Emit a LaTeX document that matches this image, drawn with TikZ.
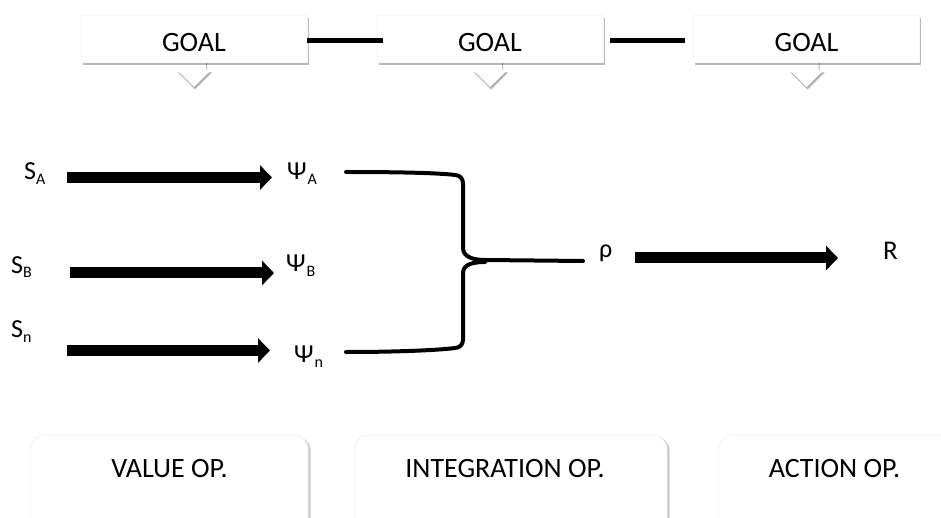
\documentclass[tikz,border=0pt]{standalone}
\usepackage{fontspec}
\setmainfont{Carlito}
\usetikzlibrary{arrows.meta,shadows}
\newcommand\subx[1]{\raisebox{-5pt}{\fontsize{16}{16}\selectfont #1}}
\begin{document}
\begin{tikzpicture}[x=1pt,y=-1pt,
  goalbox/.style={fill=white, draw=black!3, minimum width=226pt, minimum height=47pt, inner sep=0pt,
     text height=26pt, text depth=0pt, font=\fontsize{28}{32}\selectfont,
     drop shadow={shadow xshift=1.5pt, shadow yshift=-3pt, fill=black, opacity=0.28}},
  callout/.style={fill=white, drop shadow={shadow xshift=1pt, shadow yshift=-2.5pt, fill=black, opacity=0.3}},
  opbox/.style={fill=white, draw=black!10, rounded corners=14pt, anchor=north west, inner sep=0pt,
     drop shadow={shadow xshift=2.5pt, shadow yshift=-1.5pt, fill=black, opacity=0.2}},
  optext/.style={inner sep=0pt, anchor=base, font=\fontsize{28}{32}\selectfont},
  sym/.style={inner sep=0pt, anchor=base west, font=\fontsize{26}{30}\selectfont},
  goalline/.style={line width=5pt, black},
  bigarrow/.style={line width=11pt, -{Triangle[width=24pt,length=12pt]}},
  brace/.style={line width=4pt, line join=round, line cap=round}]
\useasboundingbox (0,0) rectangle (941,518);

% callout arrows under goal boxes
\foreach \cx in {194,490,806.5}{
  \fill[callout] (\cx-12,55) -- (\cx-12,70) -- (\cx-17,70) -- (\cx,87) -- (\cx+17,70) -- (\cx+12,70) -- (\cx+12,55) -- cycle;
}
% goal boxes
\node[goalbox] (g1) at (194,38.5) {GOAL};
\node[goalbox] (g2) at (490,38.5) {GOAL};
\node[goalbox] (g3) at (806.5,38.5) {GOAL};
\draw[goalline] ([yshift=-2pt]g1.east) -- ([xshift=6pt,yshift=-2pt]g2.west);
\draw[goalline] ([xshift=7pt,yshift=-2pt]g2.east) -- ([xshift=-8pt,yshift=-2pt]g3.west);

% symbols
\node[sym] (SA) at (24,180) {S\subx{A}};
\node[sym] (SB) at (11,273) {S\subx{B}};
\node[sym] (SN) at (11,337) {S\subx{n}};
\node[sym] (PA) at (287,180) {Ψ\kern1pt\subx{A}};
\node[sym] (PB) at (286,272) {Ψ\kern1pt\subx{B}};
\node[sym] (PN) at (294,362) {Ψ\kern1pt\subx{n}};
\node[sym] (rho) at (599,258) {ρ};
\node[sym, font=\fontsize{27}{30}\selectfont] (R) at (883,260) {R};

% arrows
\coordinate (aA1) at (67,177.5);  \coordinate (aA2) at (272,177.5);
\coordinate (aB1) at (70,273);    \coordinate (aB2) at (274,273);
\coordinate (aN1) at (67,350.5);  \coordinate (aN2) at (270,350.5);
\coordinate (aR1) at (635,258);   \coordinate (aR2) at (838,258);
\draw[bigarrow] (aA1) -- (aA2);
\draw[bigarrow] (aB1) -- (aB2);
\draw[bigarrow] (aN1) -- (aN2);
\draw[bigarrow] (aR1) -- (aR2);

% brace
\coordinate (brA) at (346,172);
\coordinate (brN) at (346,352);
\coordinate (brR) at (583,261);
\draw[brace] (brA) .. controls (400,172) and (440,173) .. (455,175)
   to[out=0,in=90] (463,183) -- (463,248)
   to[out=-90,in=180] (485,260) -- (brR);
\draw[brace] (485,262) to[out=180,in=90] (463,273) -- (463,340)
   to[out=-90,in=0] (455,348) .. controls (440,350) and (400,352) .. (brN);

% bottom operation boxes
\node[opbox, minimum width=278pt, minimum height=110pt] (b1) at (30,435) {};
\node[opbox, minimum width=313pt, minimum height=110pt] (b2) at (354,435) {};
\node[opbox, minimum width=240pt, minimum height=110pt] (b3) at (718,435) {};
\node[optext] (t1) at (169.5,477) {VALUE OP.};
\node[optext] (t2) at (505,477) {INTEGRATION OP.};
\node[optext] (t3) at (834.5,477) {ACTION OP.};
\end{tikzpicture}
\end{document}
